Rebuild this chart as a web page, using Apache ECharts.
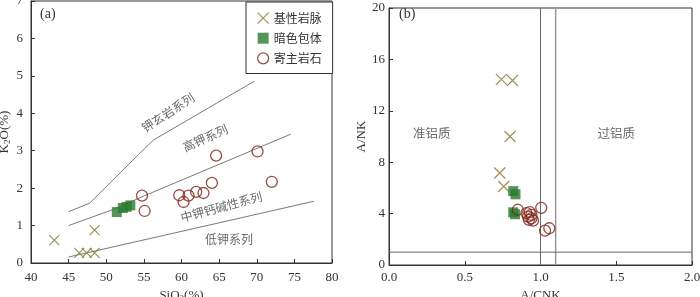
<!DOCTYPE html>
<html>
<head>
<meta charset="utf-8">
<script src="https://cdn.jsdelivr.net/npm/echarts@6/dist/echarts.min.js"></script>
<style>html,body{margin:0;padding:0;background:#fff}#c{width:700px;height:297px}</style>
</head>
<body>
<div id="c"></div>
<script>
// ---------- (a) SiO2 - K2O ----------
const dykeSiO2 = [43.1, 48.45, 46.4, 47.4, 48.45];
const dykeK2O  = [0.61, 0.88, 0.27, 0.27, 0.27];
const enclSiO2 = [51.4, 52.2, 52.7, 53.2];
const enclK2O  = [1.36, 1.47, 1.50, 1.54];
const hostSiO2 = [54.75, 55.1, 59.7, 60.27, 60.93, 61.95, 62.92, 64.04, 64.6, 70.1, 72.0];
const hostK2O  = [1.80, 1.39, 1.81, 1.63, 1.80, 1.90, 1.87, 2.14, 2.87, 2.98, 2.17];
const shoX = [45, 47.8, 54.3, 56.3, 69.7];
const shoY = [1.37, 1.6, 2.9, 3.29, 4.86];
const highKX = [45, 50.8, 55, 74.5];
const highKY = [1.0, 1.42, 1.79, 3.44];
const lowKX = [45, 77.6];
const lowKY = [0.16, 1.65];
const annA = ['钾玄岩系列', '高钾系列', '中钾钙碱性系列', '低钾系列'];
const annAX = [58.2, 63.15, 65.3, 66.3];
const annAY = [4.02, 3.34, 1.50, 0.62];
const annARot = [33, 24, 15, 0];

// ---------- (b) A/CNK - A/NK ----------
const dykeACNK = [0.742, 0.815, 0.799, 0.731, 0.757];
const dykeANK  = [14.44, 14.36, 10.0, 7.16, 6.11];
const enclACNK = [0.82, 0.835, 0.82, 0.832];
const enclANK  = [5.75, 5.5, 4.1, 3.95];
const hostACNK = [0.85, 1.005, 0.907, 0.929, 0.918, 0.94, 0.951, 0.94, 0.924, 1.03, 1.058];
const hostANK  = [4.3, 4.45, 4.04, 4.11, 3.77, 3.64, 3.46, 3.90, 3.51, 2.68, 2.86];
const annB = ['准铝质', '过铝质'];
const annBX = [0.282, 1.50];
const annBY = [10.28, 10.28];

const xTicksA = {min: 40, max: 80, interval: 5};
const yTicksA = {min: 0, max: 7, interval: 1};
const xTicksB = {min: 0, max: 2, interval: 0.5};
const yTicksB = {min: 0, max: 20, interval: 4};

const names = ['基性岩脉', '暗色包体', '寄主岩石'];
const serif = '"Liberation Serif", "Noto Sans CJK SC", serif';
const cjk = '"Noto Sans CJK SC", sans-serif';
const zip = (a, b) => a.map((v, i) => [v, b[i]]);
const crossPath = 'path://M0,0L10,10M10,0L0,10';
const cOlive = '#85752c', cGreen = '#2b7a30', cRed = '#7e2416', cLine = '#7a7a7a', cAxis = '#333';

const styles = [
  {symbol: crossPath, symbolSize: 10, itemStyle: {color: 'rgba(0,0,0,0)', borderColor: cOlive, borderWidth: 1.2}},
  {symbol: 'rect', symbolSize: 10, itemStyle: {color: cGreen}},
  {symbol: 'circle', symbolSize: 11, itemStyle: {color: 'rgba(0,0,0,0)', borderColor: cRed, borderWidth: 1.3}}
];

function axisCommon(t) {
  return Object.assign({
    type: 'value',
    axisLine: {show: true, lineStyle: {color: cAxis, width: 1}},
    axisTick: {show: true, inside: true, length: 4, lineStyle: {color: cAxis}},
    splitLine: {show: false},
    nameLocation: 'middle'
  }, t);
}
const rich = {
  a: {fontFamily: serif, fontSize: 13, color: cAxis},
  s: {fontFamily: serif, fontSize: 9, color: cAxis, padding: [7, 0, 0, 0]}
};

function lineSeries(xi, yi, xs, ys, color, w) {
  return {type: 'line', xAxisIndex: xi, yAxisIndex: yi, data: zip(xs, ys), symbol: 'none',
    lineStyle: {color: color, width: w || 1}, silent: true, z: 1};
}
function annSeries(xi, yi, texts, xs, ys, rots, fs) {
  return {type: 'scatter', xAxisIndex: xi, yAxisIndex: yi, symbolSize: 0, silent: true,
    data: texts.map((t, i) => ({name: t, value: [xs[i], ys[i]],
      label: {show: true, position: 'inside', formatter: t, rotate: rots ? rots[i] : 0,
        fontFamily: cjk, fontSize: fs, color: '#444'}}))};
}

const series = [];
series.push(lineSeries(0, 0, shoX, shoY, cLine));
series.push(lineSeries(0, 0, highKX, highKY, cLine));
series.push(lineSeries(0, 0, lowKX, lowKY, cLine));
series.push(lineSeries(1, 1, [1.0, 1.0], [yTicksB.min, yTicksB.max], '#666'));
series.push(lineSeries(1, 1, [1.1, 1.1], [yTicksB.min, yTicksB.max], '#999', 1.5));
series.push(lineSeries(1, 1, [xTicksB.min, xTicksB.max], [1, 1], '#666'));
series.push(annSeries(0, 0, annA, annAX, annAY, annARot, 12));
series.push(annSeries(1, 1, annB, annBX, annBY, null, 12.5));
const dataA = [zip(dykeSiO2, dykeK2O), zip(enclSiO2, enclK2O), zip(hostSiO2, hostK2O)];
const dataB = [zip(dykeACNK, dykeANK), zip(enclACNK, enclANK), zip(hostACNK, hostANK)];
names.forEach((n, i) => {
  series.push(Object.assign({type: 'scatter', name: n, xAxisIndex: 0, yAxisIndex: 0, data: dataA[i], z: 3}, styles[i]));
  series.push(Object.assign({type: 'scatter', name: n, xAxisIndex: 1, yAxisIndex: 1, data: dataB[i], z: 3}, styles[i],
    {symbolSize: i === 1 ? 10 : 11}));
});

const option = {
  animation: false,
  backgroundColor: '#fff',
  grid: [
    {left: 31, top: 1, width: 301, height: 262, show: true, borderColor: cAxis, borderWidth: 1,
     containLabel: false, outerBoundsMode: 'none'},
    {left: 389, top: 8, width: 303, height: 257, show: true, borderColor: cAxis, borderWidth: 1,
     containLabel: false, outerBoundsMode: 'none'}
  ],
  xAxis: [
    axisCommon(Object.assign({gridIndex: 0}, xTicksA, {
      axisLabel: {color: cAxis, fontFamily: serif, fontSize: 13, margin: 8},
      name: '{a|SiO}{s|2}{a|(%)}', nameGap: 18, nameTextStyle: {rich: rich}})),
    axisCommon(Object.assign({gridIndex: 1}, xTicksB, {
      axisLabel: {color: cAxis, fontFamily: serif, fontSize: 13, margin: 6, formatter: v => v.toFixed(1)},
      name: 'A/CNK', nameGap: 19, nameTextStyle: {fontFamily: serif, fontSize: 13, color: cAxis}}))
  ],
  yAxis: [
    axisCommon(Object.assign({gridIndex: 0}, yTicksA, {
      axisLabel: {color: cAxis, fontFamily: serif, fontSize: 13, margin: 8},
      name: '{a|K}{s|2}{a|O(%)}', nameGap: 16, nameTextStyle: {rich: rich}})),
    axisCommon(Object.assign({gridIndex: 1}, yTicksB, {
      axisLabel: {color: cAxis, fontFamily: serif, fontSize: 13, margin: 4},
      name: 'A/NK', nameGap: 20, nameTextStyle: {fontFamily: serif, fontSize: 13, color: cAxis}}))
  ],
  legend: {
    data: [
      {name: names[0], icon: crossPath, itemStyle: styles[0].itemStyle},
      {name: names[1], icon: 'rect', itemStyle: styles[1].itemStyle},
      {name: names[2], icon: 'circle', itemStyle: styles[2].itemStyle}
    ],
    orient: 'vertical', left: 246, top: 2,
    itemWidth: 11, itemHeight: 11, itemGap: 8,
    padding: [10, 11, 9, 11],
    borderColor: cAxis, borderWidth: 1, backgroundColor: '#fff',
    textStyle: {fontFamily: cjk, fontSize: 12, color: '#333'},
    selectedMode: false
  },
  graphic: [
    {type: 'text', left: 40, top: 7, style: {text: '(a)', font: '14px "Liberation Serif"', fill: '#333'}},
    {type: 'text', left: 399, top: 7, style: {text: '(b)', font: '14px "Liberation Serif"', fill: '#333'}}
  ],
  series: series
};
const chart = echarts.init(document.getElementById('c'), null, {renderer: 'canvas'});
chart.setOption(option);
</script>
</body>
</html>
